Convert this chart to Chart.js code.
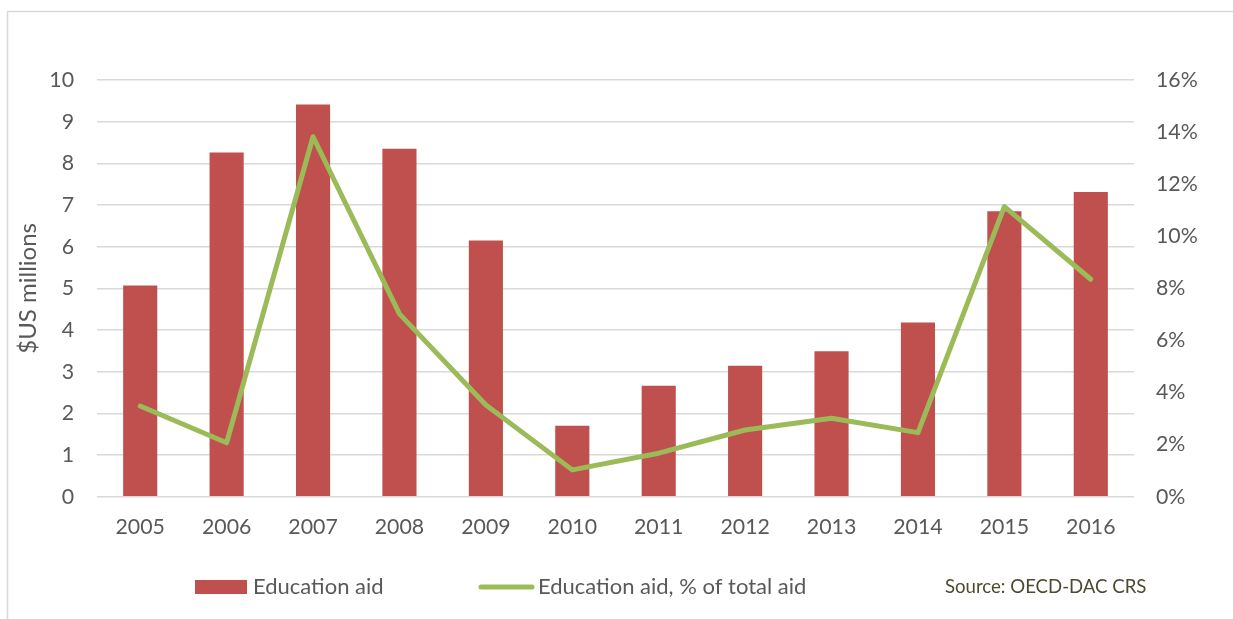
<!DOCTYPE html>
<html>
<head>
<meta charset="utf-8">
<title>Education aid 2005–2016</title>
<script src="https://cdn.jsdelivr.net/npm/chart.js@4/dist/chart.umd.min.js"></script>
<style>
  html, body { margin: 0; padding: 0; background: #ffffff; }
  #wrap { position: relative; width: 1233px; height: 619px; }
</style>
</head>
<body>
<div id="wrap"><canvas id="chart" width="1233" height="619"></canvas></div>
<script>
// Years on the category axis
const years = ['2005', '2006', '2007', '2008', '2009', '2010', '2011', '2012', '2013', '2014', '2015', '2016'];
// Education aid, $US millions (left axis)
const educationAid = [5.07, 8.26, 9.41, 8.35, 6.15, 1.70, 2.66, 3.14, 3.49, 4.18, 6.85, 7.31];
// Education aid as % of total aid (right axis)
const educationShare = [3.48, 2.07, 13.82, 7.02, 3.52, 1.03, 1.67, 2.56, 3.01, 2.46, 11.14, 8.35];
// Axis ranges and labels
const leftMax = 10;
const rightMax = 16;
const leftTitle = '$US millions';
const barLabel = 'Education aid';
const lineLabel = 'Education aid, % of total aid';
const sourceNote = 'Source: OECD-DAC CRS';

const FONT = 'Lato, "Open Sans", "Liberation Sans", sans-serif';
const TEXT = '#595959';
const GRID = '#d9d9d9';
const BAR = '#c0504d';
const LINE = '#9bbb59';

// Outer frame of the chart box
const framePlugin = {
  id: 'frame',
  beforeDraw(chart) {
    const ctx = chart.ctx;
    ctx.save();
    ctx.fillStyle = '#ffffff';
    ctx.fillRect(0, 0, chart.width, chart.height);
    ctx.strokeStyle = '#d9d9d9';
    ctx.lineWidth = 1.5;
    ctx.strokeRect(7.5, 11.5, chart.width + 20, chart.height + 20);
    ctx.restore();
  }
};

// Legend row and source note under the axis
const legendPlugin = {
  id: 'bottomLegend',
  afterDraw(chart) {
    const ctx = chart.ctx;
    const y = 587;
    ctx.save();
    ctx.font = '22px ' + FONT;
    ctx.textBaseline = 'middle';
    ctx.textAlign = 'left';

    ctx.fillStyle = chart.data.datasets[1].backgroundColor;
    ctx.fillRect(195, y - 7, 52, 14);
    ctx.fillStyle = TEXT;
    ctx.fillText(chart.data.datasets[1].label, 253, y);

    ctx.strokeStyle = chart.data.datasets[0].borderColor;
    ctx.lineWidth = 5;
    ctx.lineCap = 'round';
    ctx.beginPath();
    ctx.moveTo(481, y);
    ctx.lineTo(532, y);
    ctx.stroke();
    ctx.fillStyle = TEXT;
    ctx.fillText(chart.data.datasets[0].label, 538, y);

    ctx.font = '18.6px ' + FONT;
    ctx.fillStyle = '#4e4a30';
    ctx.fillText(sourceNote, 945, y);
    ctx.restore();
  }
};

new Chart(document.getElementById('chart'), {
  data: {
    labels: years,
    datasets: [
      {
        type: 'line',
        label: lineLabel,
        data: educationShare,
        yAxisID: 'yRight',
        borderColor: LINE,
        backgroundColor: LINE,
        borderWidth: 5,
        pointRadius: 0,
        pointHoverRadius: 0,
        tension: 0,
        borderJoinStyle: 'round',
        borderCapStyle: 'round',
        order: 0
      },
      {
        type: 'bar',
        label: barLabel,
        data: educationAid,
        yAxisID: 'y',
        backgroundColor: BAR,
        borderWidth: 0,
        categoryPercentage: 1,
        barPercentage: 0.395,
        order: 1
      }
    ]
  },
  options: {
    responsive: false,
    animation: false,
    layout: { padding: { left: 0, right: 0, top: 80, bottom: 0 } },
    plugins: {
      legend: { display: false },
      tooltip: { enabled: false }
    },
    scales: {
      x: {
        grid: { display: false, drawTicks: false },
        border: { display: false },
        ticks: { color: TEXT, font: { family: FONT, size: 21.3 }, padding: 18, maxRotation: 0 },
        afterFit(scale) { scale.height = 619 - 80 - 416.7; }
      },
      y: {
        position: 'left',
        min: 0,
        max: leftMax,
        grid: { color: GRID, lineWidth: 1.5, drawTicks: false },
        border: { display: false },
        ticks: { stepSize: 1, color: TEXT, font: { family: FONT, size: 21.3 }, padding: 23 },
        title: {
          display: true,
          text: leftTitle,
          color: TEXT,
          font: { family: FONT, size: 24 },
          padding: { top: 14, bottom: 0 }
        },
        afterFit(scale) { scale.width = 97; }
      },
      yRight: {
        position: 'right',
        min: 0,
        max: rightMax,
        grid: { display: false, drawTicks: false },
        border: { display: false },
        ticks: {
          stepSize: 2,
          color: TEXT,
          font: { family: FONT, size: 21.3 },
          padding: 22,
          callback: v => v + '%'
        },
        afterFit(scale) { scale.width = 1233 - 1134; }
      }
    }
  },
  plugins: [framePlugin, legendPlugin]
});
</script>
</body>
</html>
